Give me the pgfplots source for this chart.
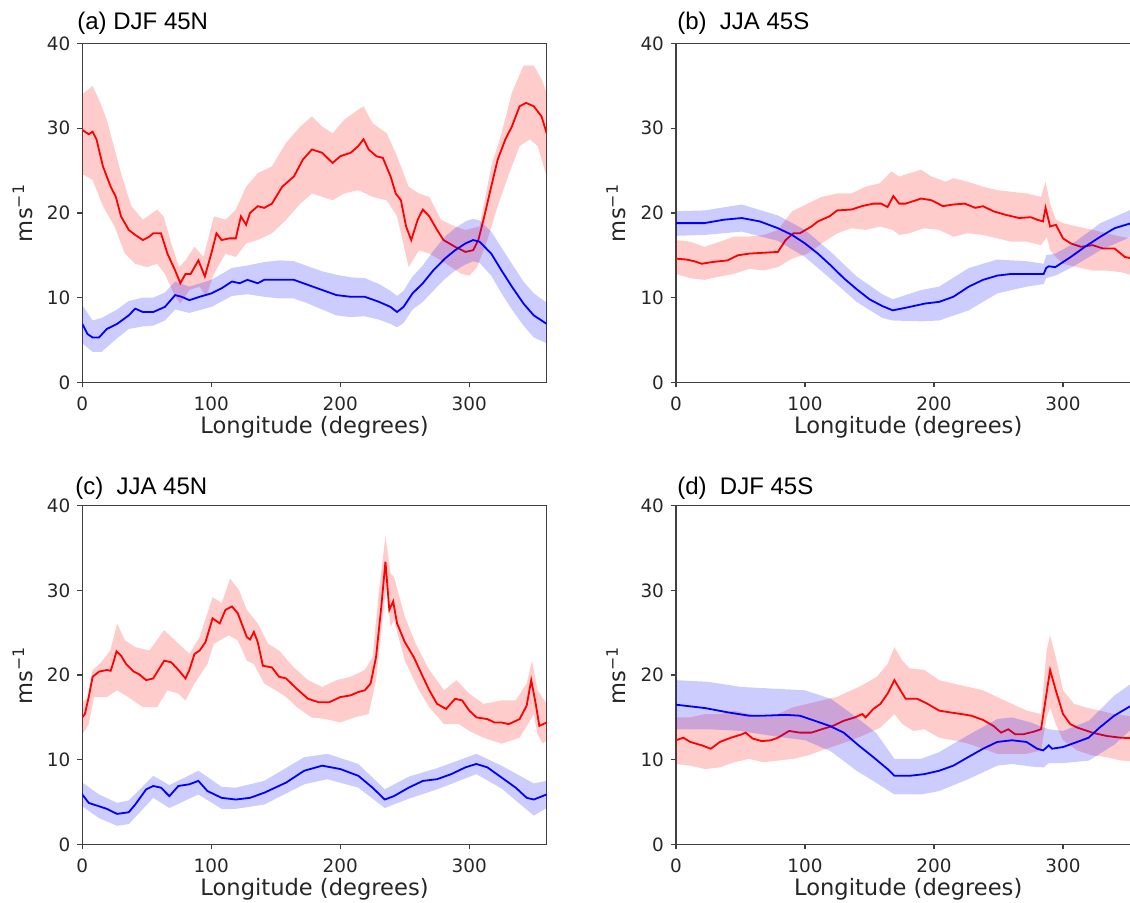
\documentclass[border=0pt]{standalone}
\usepackage{fontspec}
\setmainfont{DejaVu Sans}
\newfontfamily\titlefont{Liberation Sans}
\usepackage{pgfplots}
\usepackage{pgfplotstable}
\pgfplotsset{compat=1.18}

% Each band table runs along the upper edge (west to east) and back along
% the lower edge (east to west), so it can be filled as one closed outline.

% ---------- (a) DJF 45N ----------
\pgfplotstableread{
x y
0 29.8
3 29.5
5 29.3
8 29.6
11 28.7
16 25.5
22 23.1
26 21.9
30 19.6
36 18.0
41 17.4
47 16.8
52 17.2
55 17.6
61 17.6
66 15.2
72 13.2
76 11.7
80 12.8
84 12.8
90 14.4
95 12.5
100 15.2
104 17.6
108 16.8
114 17.0
119 17.0
123 19.6
127 18.6
130 20.0
136 20.8
141 20.6
147 21.1
155 23.1
164 24.3
171 26.3
178 27.5
186 27.1
194 25.9
200 26.7
208 27.1
214 27.9
218 28.7
222 27.5
228 26.7
233 26.5
239 24.3
243 22.3
247 21.5
251 18.4
255 16.8
260 19.2
264 20.4
269 19.6
275 18.0
280 16.8
289 16.0
297 15.4
303 15.6
307 16.8
311 19.2
317 23.1
322 26.3
328 28.7
333 30.2
339 32.6
344 33.0
350 32.6
356 31.4
360 29.4
}\redmeanA
\pgfplotstableread{
x y
0 34.0
8 35.0
14 33.0
19 31.0
30 24.7
38 20.8
47 19.2
58 20.4
63 19.6
69 16.4
75 13.6
80 14.4
87 16.0
94 14.8
102 19.6
111 19.2
119 20.4
127 23.1
136 24.7
147 25.5
158 28.3
169 30.2
178 31.4
186 30.2
194 29.4
203 31.0
214 32.2
218 32.6
225 30.6
236 29.4
244 26.7
253 23.1
261 22.3
269 21.9
278 19.2
289 18.4
297 18.0
308 18.4
317 25.5
325 29.4
333 34.2
342 37.4
350 37.4
356 35.8
360 34.2
360 24.3
353 27.9
347 28.7
339 27.9
331 24.7
322 20.8
314 16.8
306 13.6
300 12.6
294 12.8
286 13.6
278 14.4
269 15.2
261 15.6
253 13.6
244 19.6
236 21.5
225 21.9
214 22.7
203 22.3
194 21.5
186 21.9
178 22.3
169 21.1
158 19.2
147 17.6
136 16.8
127 16.4
119 14.8
111 15.2
102 12.8
96 10.1
91 11.3
83 10.9
76 9.3
72 10.1
64 12.8
58 14.0
50 13.6
41 14.0
33 15.2
25 18.4
16 20.8
8 23.9
0 24.6
}\redbandA
\pgfplotstableread{
x y
0 6.9
4 5.7
8 5.3
13 5.3
19 6.3
27 6.9
36 7.9
41 8.7
47 8.3
55 8.3
64 8.9
72 10.3
77 10.1
83 9.7
91 10.1
100 10.5
108 11.1
116 11.9
122 11.7
128 12.1
136 11.7
141 12.1
153 12.1
164 12.1
175 11.5
186 10.9
197 10.3
208 10.1
219 10.1
230 9.5
239 8.9
244 8.3
249 8.9
256 10.5
264 11.7
272 13.2
281 14.6
289 15.6
297 16.4
303 16.8
308 16.6
317 15.2
325 13.2
333 11.3
342 9.3
350 7.9
360 6.9
}\bluemeanA
\pgfplotstableread{
x y
0 9.1
8 7.3
15 7.6
27 8.6
36 9.6
47 10.0
55 10.0
64 10.6
72 11.9
83 11.3
100 12.1
116 13.5
128 13.8
141 14.2
153 14.4
164 14.3
175 13.7
186 13.1
197 12.7
208 12.4
219 12.3
230 11.6
239 10.8
244 10.2
249 10.8
256 12.5
264 13.8
272 15.5
281 17.2
289 18.2
297 19.0
303 19.3
308 19.1
317 17.8
325 15.9
333 14.0
342 11.9
350 10.5
360 9.4
360 4.6
350 5.3
342 6.7
333 8.6
325 10.5
317 12.6
308 14.1
303 14.3
297 13.9
289 13.2
281 12.2
272 10.8
264 9.5
256 8.6
249 7.0
244 6.5
239 6.9
230 7.4
219 7.8
208 7.7
197 7.9
186 8.6
175 9.3
164 9.9
153 9.9
141 10.1
128 10.4
116 10.2
100 8.9
83 8.2
72 8.6
64 7.3
55 6.7
47 6.6
36 6.3
27 5.2
15 3.6
8 3.6
0 4.6
}\bluebandA

% ---------- (b) JJA 45S ----------
\pgfplotstableread{
x y
0 14.6
8 14.5
14 14.3
20 14.0
28 14.2
40 14.4
48 15.0
57 15.2
68 15.3
79 15.4
85 16.8
91 17.6
96 17.6
105 18.4
110 19.0
119 19.6
125 20.3
136 20.4
144 20.8
153 21.1
159 21.1
164 20.7
168.5 22.0
173 21.1
178 21.1
190 21.7
198 21.5
207 20.8
215 21.0
224 21.1
232 20.6
238 20.8
246 20.2
255 19.8
266 19.4
275 19.5
280 19.2
284.5 19.0
286.5 20.6
290 18.4
294.5 18.6
300 17.0
306 16.4
314 16.0
323 16.2
331 15.8
340 15.8
348 14.8
360 14.4
}\redmeanB
\pgfplotstableread{
x y
0 16.8
11 16.6
22 16.0
34 16.6
45 17.2
57 17.2
68 17.4
79 18.0
90 20.2
102 21.1
113 21.9
125 22.3
136 22.3
147 23.1
158 23.5
167 24.9
173 24.3
181 24.7
190 25.1
198 24.3
209 23.7
215 24.1
226 23.7
238 23.1
249 22.7
260 22.5
272 22.3
283 21.9
286.5 23.7
290 21.1
294.5 19.2
300 18.8
311 18.4
323 18.0
334 17.6
345 17.2
360 16.8
360 12.4
345 13.0
334 13.2
323 13.2
311 13.6
300 14.0
294.5 14.8
290 15.6
287.5 17.2
283 16.2
272 16.6
260 16.6
249 17.0
238 17.4
226 17.6
215 17.2
204 18.0
192 18.2
181 17.6
173 17.4
168 18.0
158 18.4
147 18.0
136 18.2
125 17.6
113 16.4
102 15.2
90 14.6
79 13.6
68 13.2
57 13.4
45 12.8
34 12.5
22 12.1
11 12.3
0 12.8
}\redbandB
\pgfplotstableread{
x y
0 18.8
22 18.8
37 19.2
51 19.4
65 19.0
79 18.2
90 17.4
100 16.4
110 15.2
120 13.8
130 12.3
140 11.0
150 9.8
160 9.0
168 8.5
178 8.8
193 9.3
204 9.5
215 10.1
227 11.3
238 12.1
249 12.6
260 12.8
272 12.8
285 12.8
287 13.5
289 13.7
294 13.6
306 14.8
317 16.0
329 17.2
340 18.2
353 18.8
360 19.0
}\bluemeanB
\pgfplotstableread{
x y
0 20.2
22 20.3
51 21.0
79 19.7
100 18.0
120 15.4
140 12.5
160 10.4
168 9.8
190 10.9
204 11.3
227 13.5
249 14.5
272 14.3
285 14.0
287 15.0
294 15.2
306 16.2
329 18.8
353 20.4
360 20.5
360 17.4
353 17.2
329 15.6
306 13.5
294 12.6
287 12.3
285 11.6
272 11.3
249 10.5
227 8.5
204 7.3
190 7.2
168 7.3
160 7.6
140 9.5
120 12.2
100 14.8
79 16.7
51 17.8
22 17.4
0 17.3
}\bluebandB

% ---------- (c) JJA 45N ----------
\pgfplotstableread{
x y
0 15.0
2 15.4
5 17.4
8 19.8
13 20.4
19 20.6
22 20.5
24.5 21.7
26.5 22.8
30 22.3
34 21.3
40 20.4
44 20.1
49.5 19.4
55 19.6
59 20.6
63.5 21.7
69 21.5
74.5 20.6
80 19.6
83 20.6
87 22.5
91 22.9
95.5 23.9
101 26.7
106.5 26.1
111 27.7
116 28.1
120.5 27.3
127.5 24.5
130 24.2
133 25.1
136 23.9
140 21.1
147 20.9
152.5 19.8
158 19.6
166 18.4
175 17.2
183 16.8
191.5 16.8
200 17.4
208 17.6
214 18.0
219 18.2
223.5 19.0
227.7 22.1
231.8 28.1
235 33.4
238 27.7
241 28.7
244 26.1
250 23.9
257 22.1
264 19.8
269 18.2
275 16.6
282 16.0
289 17.2
294.5 17.0
300 15.8
305.6 15.0
314 14.8
319.5 14.4
325 14.4
330.6 14.2
339 14.8
344.5 16.4
348 19.4
351.5 16.6
354.3 14.0
360 14.4
}\redmeanC
\pgfplotstableread{
x y
0 16.8
3.6 17.2
8 20.6
13.4 21.3
21.7 22.9
27 26.1
33 24.1
41 23.3
52 22.9
63.5 25.3
74.6 23.7
83 22.5
91 24.5
101 29.2
108 28.5
114.6 31.4
121.6 30.0
127.5 27.7
136 26.1
144 23.7
152.5 22.9
164 20.9
175 19.4
186 18.6
197 19.4
208 19.8
219 20.6
225 22.1
230 30.0
235 36.4
239 32.0
241.6 31.6
250 26.9
258.5 23.7
269 20.6
280.5 18.2
290 19.4
300 17.8
311 16.6
325 17.0
336 17.0
344.5 19.0
348.6 21.7
352.9 18.2
360 16.6
360 12.3
357 11.9
352.9 13.0
350 15.4
347 14.6
339 12.6
325 11.9
311 12.6
300 13.4
292 14.2
280.5 14.2
269 16.2
261 18.2
250 21.7
241.6 26.5
239 25.7
235.6 30.4
231.8 25.3
227.7 19.4
222 15.4
211 15.0
200 14.4
189 14.8
177.6 15.0
166.4 16.2
158 17.4
150 18.2
141 19.0
133 21.3
127.5 21.7
120.5 24.1
113.6 24.7
102 23.7
97 21.3
87 19.0
80 17.0
74.6 17.8
66 18.2
58 16.2
47 16.2
35.6 17.4
27 18.2
19 17.4
9 17.4
5 14.2
0 13.0
}\redbandC
\pgfplotstableread{
x y
0 5.9
5 4.9
13 4.5
19 4.2
27 3.6
36 3.8
41 4.7
49.5 6.5
55 6.9
61 6.7
67.5 5.7
74.5 6.9
83 7.1
90 7.5
97 6.3
108 5.5
119 5.3
130 5.5
141 6.1
158 7.3
172 8.7
186 9.3
200 8.9
214 8.1
225 6.7
234.5 5.3
241.5 5.7
253 6.7
264 7.5
275 7.7
286 8.3
297 9.1
305.5 9.5
314 9.1
325 7.9
336 6.7
344.5 5.5
350 5.3
360 5.9
}\bluemeanC
\pgfplotstableread{
x y
0 7.3
13 5.9
27 4.9
36 5.2
55 8.1
67.5 7.0
90 8.7
108 6.8
119 6.7
141 7.5
172 10.3
190 10.7
214 9.5
234.5 6.5
253 8.0
275 9.0
305.5 10.7
325 9.3
350 7.2
360 7.5
360 4.3
350 3.4
325 6.6
305.5 8.3
275 6.5
253 5.4
234.5 4.3
214 6.7
190 7.7
172 7.1
141 4.7
119 4.2
108 4.2
90 5.9
67.5 4.3
55 5.5
36 2.4
27 2.2
13 3.1
0 4.5
}\bluebandC

% ---------- (d) DJF 45S ----------
\pgfplotstableread{
x y
0 12.3
5.7 12.6
11 12.1
20 11.7
27 11.3
34 12.1
42.5 12.6
51 13.0
54 13.2
59.4 12.5
66.5 12.2
73.6 12.3
79 12.6
87.7 13.4
96 13.2
105 13.2
113 13.6
121.7 14.0
130 14.6
138.7 15.0
144.4 15.4
147 15.0
153 16.0
158.5 16.6
164 17.8
169.3 19.4
174 18.2
178 17.2
187 17.2
195 16.6
204 15.8
212 15.6
221 15.4
229 15.2
238 14.7
246 14.0
252 13.2
257.6 13.6
263 13.0
269 13.0
277 13.3
283 13.6
286 16.6
290 20.6
294.4 18.2
300 15.4
305.7 14.2
311 13.8
322.7 13.2
334 12.8
345 12.6
360 12.5
}\redmeanD
\pgfplotstableread{
x y
0 15.0
11 15.0
22.6 15.4
34 15.4
45 15.8
56.6 15.4
68 15.0
79 15.4
90.6 16.2
102 16.6
113 17.0
124.5 17.4
136 18.2
144.4 18.8
155.7 19.8
164 21.3
169.3 23.3
175.5 21.7
181 20.8
192.5 20.6
204 19.4
215 19.0
226.4 18.6
238 18.2
249 17.4
260.4 16.6
271.7 15.8
283 15.4
287.3 22.9
290 24.7
294.4 22.1
300 18.2
308.5 16.6
317 16.2
328.4 15.8
339.7 15.4
360 15.0
360 9.8
345 9.9
334 10.3
322.7 10.5
311 11.1
300 12.3
294.4 14.2
290 16.2
287.3 15.0
283 11.1
271.7 10.7
260.4 10.7
249 10.7
238 11.3
226.4 11.9
215 12.3
204 12.6
192.5 13.6
184 13.4
175.5 14.2
169.3 15.4
158.5 13.8
147 13.0
136 12.3
124.5 11.7
113 11.1
102 10.5
90.6 10.1
79 9.9
68 9.7
56.6 10.1
45 9.7
34 9.1
22.6 8.9
11 9.3
0 9.5
}\redbandD
\pgfplotstableread{
x y
0 16.5
22.6 16.1
40 15.6
56.6 15.2
68 15.2
85 15.3
96 15.2
107.6 14.6
119 14.0
130 13.2
141.5 11.7
153 10.3
164 8.9
169.3 8.1
181 8.1
192.5 8.3
204 8.7
215 9.3
226.4 10.3
238 11.3
249 12.1
260.4 12.3
271.7 12.1
280 11.3
284.6 11.1
289 11.7
291.5 11.3
300 11.5
311 12.1
319.8 12.6
328.4 13.8
339.7 15.2
353 16.4
360 16.9
}\bluemeanD
\pgfplotstableread{
x y
0 19.4
25 19.2
50 18.6
75 18.4
100 18.2
120 17.2
140 15.0
155 13.2
169.3 10.1
190 10.1
204 10.9
226.4 12.9
249 14.8
260.4 15.0
275 14.4
285 13.8
289 13.6
300 13.4
320 14.6
340 17.6
353 19.0
360 19.7
360 14.4
353 13.6
340 11.8
320 9.9
300 9.6
289 9.6
285 9.1
275 9.2
260.4 9.5
249 9.3
226.4 7.7
204 6.3
190 5.9
169.3 5.9
155 7.3
140 8.7
120 11.0
100 12.3
75 12.8
50 13.4
25 13.6
0 13.6
}\bluebandD

\pgfplotsset{
  panel/.style={
    scale only axis, width=232.2pt, height=169.35pt,
    xmin=0, xmax=360, ymin=0, ymax=40,
    xtick={0,100,200,300}, ytick={0,10,20,30,40},
    tick pos=left, tick align=outside, major tick length=2.5pt,
    axis line style={black!75, line width=0.6pt},
    tick style={black!75, line width=0.6pt},
    tick label style={font=\fontsize{9.2}{11}\selectfont, text=black!85},
    xticklabel style={yshift=-1pt},
    /pgf/number format/assume math mode=true,
    xlabel={Longitude (degrees)},
    ylabel={ms\textsuperscript{−1}},
    xlabel style={at={(axis description cs:0.5,-0.151)}, anchor=base,
      font=\fontsize{11.3}{13}\selectfont, text=black!85},
    ylabel style={at={(axis description cs:-0.108,0.5)}, anchor=base,
      font=\fontsize{11.3}{13}\selectfont, text=black!85},
  },
  meanline/.style={line width=0.9pt},
}

\newcommand\bands[4]{% red band, red mean, blue band, blue mean
  \addplot[fill=red, fill opacity=0.2, draw=none] table {#1};
  \addplot[red, meanline] table {#2};
  \addplot[fill=blue, fill opacity=0.2, draw=none] table {#3};
  \addplot[blue, meanline] table {#4};
}

\begin{document}
\begin{tikzpicture}
\begin{scope}
\clip (0,0) rectangle (565pt,451pt);

\begin{axis}[panel, at={(41.15pt,259.85pt)}, anchor=south west]
  \bands{\redbandA}{\redmeanA}{\bluebandA}{\bluemeanA}
\end{axis}
\begin{axis}[panel, at={(338pt,259.85pt)}, anchor=south west]
  \bands{\redbandB}{\redmeanB}{\bluebandB}{\bluemeanB}
\end{axis}
\begin{axis}[panel, at={(41.15pt,28.8pt)}, anchor=south west]
  \bands{\redbandC}{\redmeanC}{\bluebandC}{\bluemeanC}
\end{axis}
\begin{axis}[panel, at={(338pt,28.8pt)}, anchor=south west]
  \bands{\redbandD}{\redmeanD}{\bluebandD}{\bluemeanD}
\end{axis}
\end{scope}

\begin{scope}[every node/.style={anchor=base west, inner sep=0pt,
    font=\titlefont\fontsize{12}{14}\selectfont}]
  \node at (38.5pt,436pt) {(a) DJF 45N};
  \node at (338.5pt,436pt) {(b)\hspace{0.55em}JJA 45S};
  \node at (37.5pt,204pt) {(c)\hspace{0.55em}JJA 45N};
  \node at (338.5pt,204pt) {(d)\hspace{0.55em}DJF 45S};
\end{scope}
\pgfresetboundingbox
\path[use as bounding box] (0,0) rectangle (565pt,451pt);
\end{tikzpicture}
\end{document}
